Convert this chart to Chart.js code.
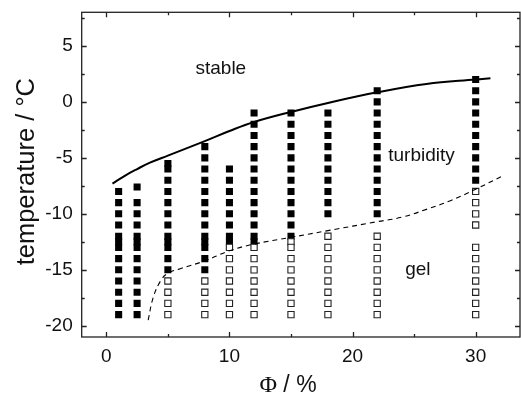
<!DOCTYPE html>
<html>
<head>
<meta charset="utf-8">
<script src="https://cdn.jsdelivr.net/npm/chart.js@4/dist/chart.umd.min.js"></script>
<style>
  html, body { margin: 0; padding: 0; background: #fff; }
  canvas { display: block; }
</style>
</head>
<body>
<canvas id="phase" width="521" height="401"></canvas>
<script>
// Surfactant volume fraction Φ (%) of each sample series
const compositions = [1, 2.5, 5, 8, 10, 12, 15, 18, 22, 30];

// Temperatures (°C) at which each sample was turbid (filled squares)
const turbidTemps = [
  [-8, -9, -10, -11, -12, -12.5, -13, -14, -15, -16, -17, -18, -19],
  [-7.6, -9, -10, -11, -12, -12.5, -13, -14, -15, -16, -17, -18, -19],
  [-5.5, -6, -7, -8, -9, -10, -11, -12, -12.5, -13, -14, -15],
  [-4, -5, -6, -7, -8, -9, -10, -11, -12, -12.5, -13, -14, -15],
  [-6, -7, -8, -9, -10, -11, -12, -12.5],
  [-1, -2, -3, -4, -5, -6, -7, -8, -9, -10, -11, -12, -12.5],
  [-1, -2, -3, -4, -5, -6, -7, -8, -9, -10, -11, -12],
  [-1, -2, -3, -4, -5, -6, -7, -8, -9, -10],
  [1, 0, -1, -2, -3, -4, -5, -6, -7, -8, -9, -10],
  [2, 1, 0, -1, -2, -3, -4, -5, -6, -7]
];

// Temperatures (°C) at which each sample was a gel (open squares)
const gelTemps = [
  [],
  [],
  [-16, -17, -18, -19],
  [-16, -17, -18, -19],
  [-13, -14, -15, -16, -17, -18, -19],
  [-13, -14, -15, -16, -17, -18, -19],
  [-12.5, -13, -14, -15, -16, -17, -18, -19],
  [-12, -13, -14, -15, -16, -17, -18, -19],
  [-12, -13, -14, -15, -16, -17, -18, -19],
  [-8, -9, -10, -11, -13, -14, -15, -16, -17, -18, -19]
];

// Cloud-point boundary (solid line)
const cloudPhi = [0.5, 1.5, 2.5, 3.5, 5, 8, 10, 12, 15, 18, 22, 26, 30, 31.2];
const cloudT   = [-7.3, -6.6, -6.0, -5.45, -4.8, -3.5, -2.6, -1.8, -0.9, -0.1, 0.85, 1.6, 2.0, 2.1];

// Gel boundary (dashed line)
const gelPhi = [3.4, 3.8, 4.4, 5, 6, 8, 10, 12, 15, 18, 22, 24, 26, 28, 30, 32.2];
const gelT   = [-19.5, -17.5, -16, -15.3, -14.9, -14.2, -13.3, -12.7, -12.1, -11.5, -10.7, -10.3, -9.6, -8.8, -7.8, -6.6];

// Axis ticks
const xTicks = [0, 10, 20, 30];
const xMinorTicks = [5, 15, 25];
const yTicks = [-20, -15, -10, -5, 0, 5];
const yMinorTicks = [-17.5, -12.5, -7.5, -2.5, 2.5, 7.5];

// Phase region names and where they sit (Φ, T)
const regionNames = ['stable', 'turbidity', 'gel'];
const regionPhi = [9.3, 25.6, 25.3];
const regionT = [3.0, -4.8, -15.0];

const SANS = "'Liberation Sans', Arial, Helvetica, sans-serif";
const SERIF = "'Liberation Serif', 'Times New Roman', serif";
const INK = '#111';

function toPoints(xs, ys) { return xs.map((x, i) => ({ x, y: ys[i] })); }
function samplePoints(temps) {
  const pts = [];
  compositions.forEach((phi, i) => temps[i].forEach(t => pts.push({ x: phi, y: t })));
  return pts;
}

// Frame with inward ticks on all four sides, titles and region names
const framePlugin = {
  id: 'frameTicks',
  afterDraw(chart) {
    const { ctx, chartArea: a, scales: { x, y } } = chart;
    ctx.save();
    ctx.strokeStyle = '#222';
    ctx.lineWidth = 1.3;
    ctx.strokeRect(a.left, a.top, a.right - a.left, a.bottom - a.top);
    ctx.beginPath();
    const major = 5, minor = 3;
    const xt = (vals, len) => vals.forEach(v => {
      const px = Math.round(x.getPixelForValue(v)) + 0.5;
      ctx.moveTo(px, a.bottom); ctx.lineTo(px, a.bottom - len);
      ctx.moveTo(px, a.top); ctx.lineTo(px, a.top + len);
    });
    const yt = (vals, len) => vals.forEach(v => {
      const py = Math.round(y.getPixelForValue(v)) + 0.5;
      ctx.moveTo(a.left, py); ctx.lineTo(a.left + len, py);
      ctx.moveTo(a.right, py); ctx.lineTo(a.right - len, py);
    });
    xt(xTicks, major); xt(xMinorTicks, minor);
    yt(yTicks, major); yt(yMinorTicks, minor);
    ctx.stroke();

    // region names
    ctx.fillStyle = INK;
    ctx.font = `19px ${SANS}`;
    ctx.textAlign = 'center';
    ctx.textBaseline = 'middle';
    regionNames.forEach((name, i) => {
      ctx.fillText(name, x.getPixelForValue(regionPhi[i]), y.getPixelForValue(regionT[i]));
    });

    // x-axis title: Φ / %
    ctx.textBaseline = 'alphabetic';
    ctx.textAlign = 'left';
    const phiGlyph = 'Φ', rest = ' / %';
    ctx.font = `24px ${SERIF}`;
    const w1 = ctx.measureText(phiGlyph).width;
    ctx.font = `23px ${SANS}`;
    const w2 = ctx.measureText(rest).width;
    const cx = 288, by = 392;
    let sx = cx - (w1 + w2) / 2;
    ctx.font = `24px ${SERIF}`;
    ctx.fillText(phiGlyph, sx, by);
    ctx.font = `23px ${SANS}`;
    ctx.fillText(rest, sx + w1, by);

    // y-axis title
    ctx.save();
    ctx.translate(27, (a.top + a.bottom) / 2 - 3);
    ctx.rotate(-Math.PI / 2);
    ctx.textAlign = 'center';
    ctx.textBaseline = 'middle';
    ctx.font = `25.5px ${SANS}`;
    ctx.fillText('temperature / °C', 0, 0);
    ctx.restore();

    ctx.restore();
  }
};

new Chart(document.getElementById('phase'), {
  data: {
    datasets: [
      {
        type: 'line',
        label: 'cloud boundary',
        data: toPoints(cloudPhi, cloudT),
        borderColor: '#000',
        borderWidth: 2,
        pointRadius: 0,
        tension: 0.4,
        fill: false,
        order: 0
      },
      {
        type: 'line',
        label: 'gel boundary',
        data: toPoints(gelPhi, gelT),
        borderColor: '#000',
        borderWidth: 1.1,
        borderDash: [5, 4],
        pointRadius: 0,
        tension: 0.4,
        fill: false,
        order: 1
      },
      {
        type: 'scatter',
        label: 'gel',
        data: samplePoints(gelTemps),
        pointStyle: 'rect',
        pointRadius: 4.4,
        backgroundColor: '#fff',
        borderColor: '#222',
        borderWidth: 1.1,
        order: 2
      },
      {
        type: 'scatter',
        label: 'turbid',
        data: samplePoints(turbidTemps),
        pointStyle: 'rect',
        pointRadius: 5,
        backgroundColor: '#000',
        borderColor: '#000',
        borderWidth: 0,
        order: 3
      }
    ]
  },
  options: {
    responsive: false,
    animation: false,
    devicePixelRatio: 1,
    layout: { autoPadding: false, padding: { top: 12.3, right: 1, left: 0, bottom: 0 } },
    plugins: { legend: { display: false }, tooltip: { enabled: false } },
    scales: {
      x: {
        type: 'linear',
        min: -2,
        max: 33.6,
        afterBuildTicks: s => { s.ticks = xTicks.map(v => ({ value: v })); },
        afterFit: s => { s.height = 64; s.paddingLeft = 0; s.paddingRight = 0; },
        grid: { display: false, drawTicks: false },
        border: { display: false },
        ticks: { color: INK, font: { family: SANS, size: 19 }, padding: 8, maxRotation: 0 }
      },
      y: {
        type: 'linear',
        min: -21,
        max: 8,
        afterBuildTicks: s => { s.ticks = yTicks.map(v => ({ value: v })); },
        afterFit: s => { s.width = 81.7; s.paddingTop = 0; s.paddingBottom = 0; },
        grid: { display: false, drawTicks: false },
        border: { display: false },
        ticks: { color: INK, font: { family: SANS, size: 19 }, padding: 9 }
      }
    }
  },
  plugins: [framePlugin]
});
</script>
</body>
</html>
